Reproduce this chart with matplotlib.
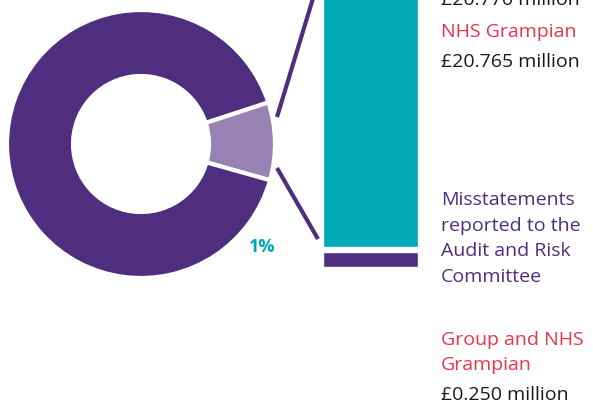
import matplotlib
matplotlib.use("Agg")
import matplotlib.pyplot as plt

W, H = 593, 403

# donut: share of the ring given to each slice (visual, as drawn)
donut_labels = ["Misstatements", "Rest"]
donut_shares = [9.4, 90.6]
donut_colors = ["#9882b3", "#4f2d7f"]

# stacked bar segments, bottom to top (visual heights)
bar_labels = ["Misstatements", "NHS Grampian"]
bar_heights = [15, 300]
bar_colors = ["#4f2d7f", "#00a9b5"]

# text blocks at the right: (text, colour)
top_lines = [("£20.770 million", "#1a1a1a"),
             ("NHS Grampian", "#e8344e"),
             ("£20.765 million", "#1a1a1a")]
mid_lines = ["Misstatements", "reported to the", "Audit and Risk", "Committee"]
low_lines = [("Group and NHS", "#e8344e"),
             ("Grampian", "#e8344e"),
             ("£0.250 million", "#1a1a1a")]
pct_label = "1%"

PURPLE = "#4f2d7f"
TEAL = "#00a9b5"
plt.rcParams['font.family'] = ['Open Sans', 'DejaVu Sans']

fig = plt.figure(figsize=(W / 100, H / 100), dpi=100)
ax = fig.add_axes([0, 0, 1, 1])
ax.set_xlim(0, W)
ax.set_ylim(0, H)
ax.set_aspect('equal')
ax.axis('off')

# donut
ax.pie(donut_shares, colors=donut_colors, center=(141, H - 144), radius=134,
       startangle=-15.7, counterclock=True,
       wedgeprops=dict(width=66, edgecolor='white', linewidth=3))
ax.set_xlim(0, W)
ax.set_ylim(0, H)

# connector lines
ax.plot([277, 314], [H - 117, H + 5], color=PURPLE, lw=3, solid_capstyle='butt')
ax.plot([277, 318], [H - 168, H - 239], color=PURPLE, lw=3, solid_capstyle='butt')

# stacked bar
bottom = H - 267
for h, c in zip(bar_heights, bar_colors):
    ax.bar(370.5, h, width=95, bottom=bottom, color=c, edgecolor='white', linewidth=1)
    bottom += h + 5

ax.text(249, H - 252, pct_label, color=TEAL, fontsize=13, fontweight='bold',
        va='baseline', ha='left')

fs = 14
for (t, c), y in zip(top_lines, [5, 37, 67]):
    ax.text(441, H - y, t, color=c, fontsize=fs, va='baseline', ha='left')
for t, y in zip(mid_lines, [205, 231, 256, 282]):
    ax.text(441, H - y, t, color=PURPLE, fontsize=fs, va='baseline', ha='left')
for (t, c), y in zip(low_lines, [345, 370, 400]):
    ax.text(441, H - y, t, color=c, fontsize=fs, va='baseline', ha='left')

fig.savefig("out.png", dpi=100)
